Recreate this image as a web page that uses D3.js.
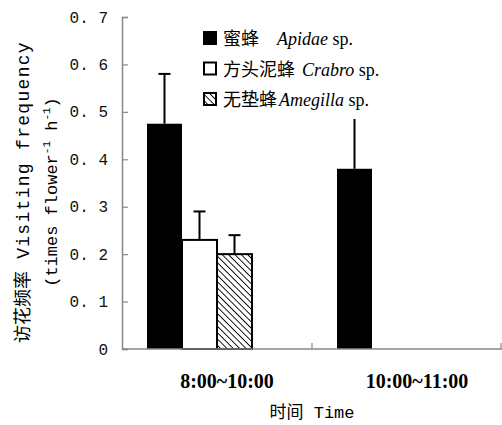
<!DOCTYPE html>
<html>
<head>
<meta charset="utf-8">
<script src="https://cdn.jsdelivr.net/npm/d3@7"></script>
<style>
  body { margin: 0; background: #fff; }
  svg { display: block; }
</style>
</head>
<body>
<svg id="chart"></svg>
<script>
// chart data
const periods = ["8:00~10:00", "10:00~11:00"];
const species = ["Apidae", "Crabro", "Amegilla"];
const speciesCn = ["蜜蜂", "方头泥蜂", "无垫蜂"];
const meanValues = [
    [0.475, 0.23, 0.20],
    [0.38, null, null]
];
const errorTops = [
    [0.58, 0.29, 0.24],
    [0.485, null, null]
];
const capped = [true, false];
const yTicks = [0, 0.1, 0.2, 0.3, 0.4, 0.5, 0.6, 0.7];

(() => {
    const width = 502;
    const height = 425;
    const margin = { top: 17, right: 0, bottom: 76, left: 122 };

    const svg = d3.select("#chart")
        .attr("width", width)
        .attr("height", height);

    const monoFont = "'Liberation Mono', 'DejaVu Sans Mono', monospace";
    const cjkFont = "'Noto Sans CJK SC', sans-serif";
    const serifFont = "'Liberation Serif', 'Times New Roman', serif";

    // hatch pattern for the third species (lines running top-left to bottom-right)
    const defs = svg.append("defs");
    const hatch = defs.append("pattern")
        .attr("id", "hatch")
        .attr("patternUnits", "userSpaceOnUse")
        .attr("width", 4.5)
        .attr("height", 4.5)
        .attr("patternTransform", "rotate(45)");
    hatch.append("rect").attr("width", 4.5).attr("height", 4.5).attr("fill", "#fff");
    hatch.append("line")
        .attr("x1", 0).attr("y1", 0)
        .attr("x2", 4.5).attr("y2", 0)
        .attr("stroke", "#000")
        .attr("stroke-width", 1.8);

    const fills = ["#000", "#fff", "url(#hatch)"];

    const x0 = d3.scaleBand()
        .domain(periods)
        .range([margin.left, width])
        .padding(0);

    // four slots per period, the fourth one is left empty like in the original
    const x1 = d3.scaleBand()
        .domain(d3.range(4))
        .range([0, x0.bandwidth()])
        .paddingInner(0)
        .paddingOuter(0.714);

    const y = d3.scaleLinear()
        .domain([0, 0.7])
        .range([height - margin.bottom, margin.top]);

    // bars
    const rows = [];
    periods.forEach((p, i) => {
        species.forEach((s, j) => {
            if (meanValues[i][j] != null) {
                rows.push({ period: p, idx: j, value: meanValues[i][j], err: errorTops[i][j], cap: capped[i] });
            }
        });
    });

    const bars = svg.append("g").attr("class", "bars");

    bars.selectAll("rect")
        .data(rows)
        .enter()
        .append("rect")
        .attr("x", d => x0(d.period) + x1(d.idx))
        .attr("y", d => y(d.value))
        .attr("width", x1.bandwidth())
        .attr("height", d => y(0) - y(d.value))
        .attr("fill", d => fills[d.idx])
        .attr("stroke", "#000")
        .attr("stroke-width", d => d.idx === 0 ? 0 : 2);

    // error bars
    const errs = svg.append("g").attr("class", "errors")
        .attr("stroke", "#000")
        .attr("stroke-width", 2);

    errs.selectAll("line.stem")
        .data(rows)
        .enter()
        .append("line")
        .attr("class", "stem")
        .attr("x1", d => x0(d.period) + x1(d.idx) + x1.bandwidth() / 2)
        .attr("x2", d => x0(d.period) + x1(d.idx) + x1.bandwidth() / 2)
        .attr("y1", d => y(d.value))
        .attr("y2", d => y(d.err));

    errs.selectAll("line.cap")
        .data(rows.filter(d => d.cap))
        .enter()
        .append("line")
        .attr("class", "cap")
        .attr("x1", d => x0(d.period) + x1(d.idx) + x1.bandwidth() / 2 - 6)
        .attr("x2", d => x0(d.period) + x1(d.idx) + x1.bandwidth() / 2 + 6)
        .attr("y1", d => y(d.err))
        .attr("y2", d => y(d.err));

    // y axis
    const yAxis = svg.append("g")
        .attr("transform", `translate(${margin.left},0)`)
        .call(d3.axisRight(y)
            .tickValues(yTicks)
            .tickSize(6)
            .tickFormat(d => d === 0 ? "0" : d.toFixed(1).replace(".", ". ")));

    yAxis.select(".domain").attr("stroke", "#888").attr("stroke-width", 1.5);
    yAxis.selectAll(".tick line").attr("stroke", "#888").attr("stroke-width", 1.2);
    yAxis.selectAll(".tick text")
        .attr("x", -14)
        .attr("text-anchor", "end")
        .attr("fill", "#111")
        .attr("font-family", monoFont)
        .attr("font-size", "16px");

    // x axis: line with inward ticks at the band boundaries
    const xAxis = svg.append("g").attr("stroke", "#888");
    xAxis.append("line")
        .attr("x1", margin.left)
        .attr("x2", width)
        .attr("y1", y(0))
        .attr("y2", y(0))
        .attr("stroke-width", 1.5);
    xAxis.selectAll("line.tick")
        .data(periods)
        .enter()
        .append("line")
        .attr("class", "tick")
        .attr("x1", d => Math.min(x0(d) + x0.bandwidth(), width - 1))
        .attr("x2", d => Math.min(x0(d) + x0.bandwidth(), width - 1))
        .attr("y1", y(0))
        .attr("y2", y(0) - 6)
        .attr("stroke-width", 1.2);

    // category labels
    svg.append("g")
        .selectAll("text")
        .data(periods)
        .enter()
        .append("text")
        .attr("x", d => x0(d) + x0.bandwidth() / 2 + 10)
        .attr("y", y(0) + 39)
        .attr("text-anchor", "middle")
        .attr("font-family", serifFont)
        .attr("font-weight", "bold")
        .attr("font-size", "20px")
        .text(d => d);

    // x title
    const xTitle = svg.append("text")
        .attr("x", x0.range()[0] + (x0.range()[1] - x0.range()[0]) / 2)
        .attr("y", 418)
        .attr("text-anchor", "middle")
        .attr("font-size", "17px");
    xTitle.append("tspan").attr("font-family", cjkFont).text("时间");
    xTitle.append("tspan").attr("font-family", monoFont).text(" Time");

    // y title, two rotated lines
    const yTitle = svg.append("g")
        .attr("transform", "translate(29,192) rotate(-90)");
    const l1 = yTitle.append("text")
        .attr("text-anchor", "middle")
        .attr("font-size", "18px");
    l1.append("tspan").attr("font-family", cjkFont).text("访花频率");
    l1.append("tspan").attr("font-family", monoFont)
        .attr("letter-spacing", "1.3px")
        .text(" Visiting frequency");

    const l2 = yTitle.append("text")
        .attr("y", 28)
        .attr("text-anchor", "middle")
        .attr("font-family", monoFont)
        .attr("font-size", "17px");
    l2.append("tspan").text("(times flower");
    l2.append("tspan").attr("font-size", "11px").attr("dy", -7).text("-1");
    l2.append("tspan").attr("dy", 7).text(" h");
    l2.append("tspan").attr("font-size", "11px").attr("dy", -7).text("-1");
    l2.append("tspan").attr("dy", 7).text(")");

    // legend
    const legend = svg.append("g")
        .attr("transform", "translate(203,38)");

    const item = legend.selectAll("g")
        .data(species)
        .enter()
        .append("g")
        .attr("transform", (d, i) => `translate(0,${i * 30.5})`);

    item.append("rect")
        .attr("x", 1)
        .attr("y", -6)
        .attr("width", 12)
        .attr("height", 12)
        .attr("fill", (d, i) => fills[i])
        .attr("stroke", "#000")
        .attr("stroke-width", 2);

    const label = item.append("text")
        .attr("x", 20)
        .attr("y", 7)
        .attr("font-size", "18px");
    label.append("tspan")
        .attr("font-family", cjkFont)
        .text((d, i) => speciesCn[i]);
    label.append("tspan")
        .attr("font-family", serifFont)
        .attr("font-style", "italic")
        .attr("dx", (d, i) => i === 0 ? 18 : (i === 1 ? 7 : 2))
        .text(d => d);
    label.append("tspan")
        .attr("font-family", serifFont)
        .text(" sp.");
})();
</script>
</body>
</html>
